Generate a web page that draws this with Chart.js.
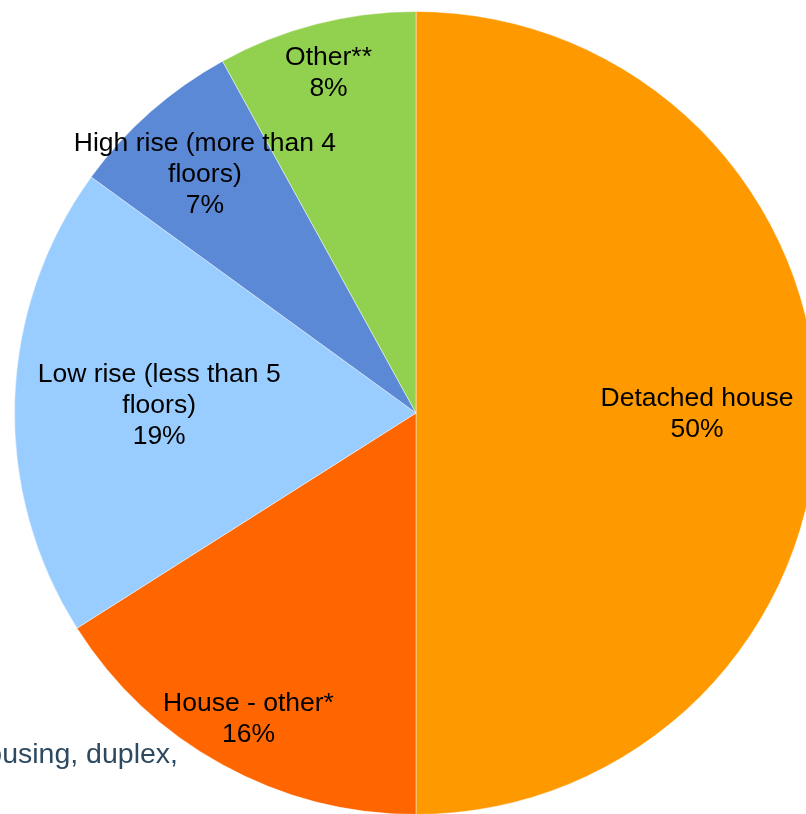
<!DOCTYPE html>
<html>
<head>
<meta charset="utf-8">
<script src="https://cdn.jsdelivr.net/npm/chart.js@4.4.0/dist/chart.umd.min.js"></script>
<style>
    html, body { margin: 0; padding: 0; overflow: hidden; background: #fff; }
    body { width: 806px; height: 814px; position: relative; }
    #wrap { position: absolute; left: 0; top: 0; width: 830px; height: 830px; }
</style>
</head>
<body>
<div id="wrap"><canvas id="chart"></canvas></div>
<script>
// dwelling types, share in %
const categories = ['Detached house', 'House - other*', 'Low rise (less than 5 floors)', 'High rise (more than 4 floors)', 'Other**'];
const labelLines = [
    ['Detached house'],
    ['House - other*'],
    ['Low rise (less than 5', 'floors)'],
    ['High rise (more than 4', 'floors)'],
    ['Other**']
];
const shares = [50, 16, 19, 7, 8];
const sliceColors = ['#FF9900', '#FF6600', '#99CCFF', '#5B89D5', '#92D050'];
// how far out each label sits, as a fraction of the radius
const labelRadius = [0.70, 0.866, 0.64, 0.795, 0.876];
const footnote = '*Row housing, duplex,';

const footnotePlugin = {
    id: 'footnote',
    beforeDatasetsDraw(chart) {
        const ctx = chart.ctx;
        ctx.save();
        ctx.font = '28.5px "Liberation Sans", Arial, sans-serif';
        ctx.fillStyle = '#2E4A60';
        ctx.textAlign = 'right';
        ctx.textBaseline = 'alphabetic';
        ctx.fillText(footnote, 178, 763);
        ctx.restore();
    }
};

const sliceLabels = {
    id: 'sliceLabels',
    afterDatasetsDraw(chart) {
        const ctx = chart.ctx;
        const meta = chart.getDatasetMeta(0);
        const lineH = 31;
        ctx.save();
        ctx.font = '26.5px "Liberation Sans", Arial, sans-serif';
        ctx.fillStyle = '#000';
        ctx.textAlign = 'center';
        ctx.textBaseline = 'middle';
        meta.data.forEach((arc, i) => {
            const p = arc.getProps(['x', 'y', 'startAngle', 'endAngle', 'outerRadius'], true);
            const mid = (p.startAngle + p.endAngle) / 2;
            const r = p.outerRadius * labelRadius[i];
            const cx = p.x + Math.cos(mid) * r;
            const cy = p.y + Math.sin(mid) * r + 1;
            const lines = labelLines[i].concat([shares[i] + '%']);
            const top = cy - (lines.length - 1) * lineH / 2;
            lines.forEach((t, j) => ctx.fillText(t, cx, top + j * lineH));
        });
        ctx.restore();
    }
};

const ctx = document.getElementById('chart').getContext('2d');
const myChart = new Chart(ctx, {
    type: 'pie',
    data: {
        labels: categories,
        datasets: [{
            data: shares,
            backgroundColor: sliceColors,
            borderColor: 'rgba(255,255,255,0.45)',
            borderWidth: 1
        }]
    },
    options: {
        responsive: true,
        maintainAspectRatio: false,
        animation: false,
        layout: {
            padding: { left: 14, top: 11, right: 12, bottom: 15 }
        },
        plugins: {
            legend: { display: false },
            tooltip: { enabled: false }
        }
    },
    plugins: [footnotePlugin, sliceLabels]
});
</script>
</body>
</html>
